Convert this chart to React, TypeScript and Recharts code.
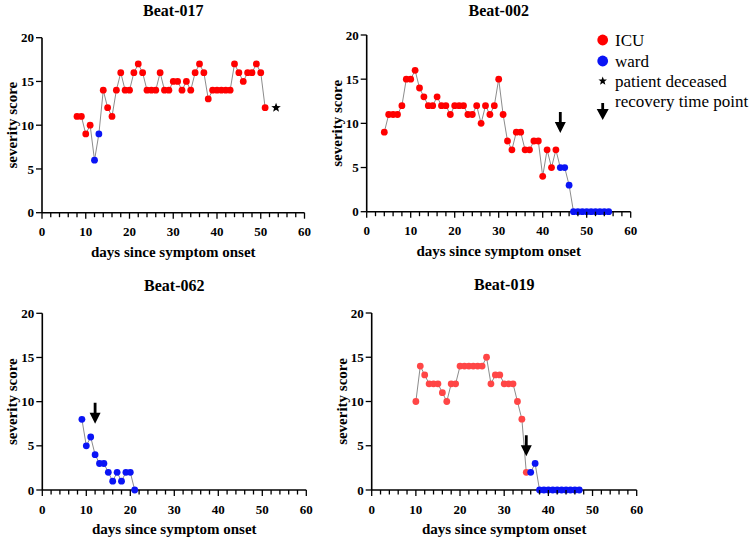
import React from 'react';
import { ComposedChart, Line, Scatter, XAxis, YAxis } from 'recharts';

const FONT = "'Liberation Serif', 'Times New Roman', serif";
const RED = '#ff0000';
const RED_LIGHT = '#ff4646';
const BLUE = '#0a14f5';

const xTicks = [0, 2, 4, 6, 8, 10, 12, 14, 16, 18, 20, 22, 24, 26, 28, 30, 32, 34, 36, 38, 40, 42, 44, 46, 48, 50, 52, 54, 56, 58, 60];
const yTicks = [0, 5, 10, 15, 20];

// Beat-017
const days017 = [8, 9, 10, 11, 12, 13, 14, 15, 16, 17, 18, 19, 20, 21, 22, 23, 24, 25, 26, 27, 28, 29, 30, 31, 32, 33, 34, 35, 36, 37, 38, 39, 40, 41, 42, 43, 44, 45, 46, 47, 48, 49, 50, 51];
const score017 = [11, 11, 9, 10, 6, 9, 14, 12, 11, 14, 16, 14, 14, 16, 17, 16, 14, 14, 14, 16, 14, 14, 15, 15, 14, 15, 14, 16, 17, 16, 13, 14, 14, 14, 14, 14, 17, 16, 15, 16, 16, 17, 16, 12];
const ward017 = [12, 13];
const deceased017 = [{ day: 53.5, score: 12 }];

// Beat-002
const days002 = [4, 5, 6, 7, 8, 9, 10, 11, 12, 13, 14, 15, 16, 17, 18, 19, 20, 21, 22, 23, 24, 25, 26, 27, 28, 29, 30, 31, 32, 33, 34, 35, 36, 37, 38, 39, 40, 41, 42, 43, 44, 45, 46, 47, 48, 49, 50, 51, 52, 53, 54, 55];
const score002 = [9, 11, 11, 11, 12, 15, 15, 16, 14, 13, 12, 12, 13, 12, 12, 11, 12, 12, 12, 11, 11, 12, 10, 12, 11, 12, 15, 11, 8, 7, 9, 9, 7, 7, 8, 8, 4, 7, 5, 7, 5, 5, 3, 0, 0, 0, 0, 0, 0, 0, 0, 0];
const ward002 = [44, 45, 46, 47, 48, 49, 50, 51, 52, 53, 54, 55];
const recovery002 = [{ day: 44, score: 8.9 }];

// Beat-062
const days062 = [9, 10, 11, 12, 13, 14, 15, 16, 17, 18, 19, 20, 21];
const score062 = [8, 5, 6, 4, 3, 3, 2, 1, 2, 1, 2, 2, 0];
const ward062 = [9, 10, 11, 12, 13, 14, 15, 16, 17, 18, 19, 20, 21];
const recovery062 = [{ day: 12, score: 7.5 }];

// Beat-019
const days019 = [10, 11, 12, 13, 14, 15, 16, 17, 18, 19, 20, 21, 22, 23, 24, 25, 26, 27, 28, 29, 30, 31, 32, 33, 34, 35, 36, 37, 38, 39, 40, 41, 42, 43, 44, 45, 46, 47];
const score019 = [10, 14, 13, 12, 12, 12, 11, 10, 12, 12, 14, 14, 14, 14, 14, 14, 15, 12, 13, 13, 12, 12, 12, 10, 8, 2, 2, 3, 0, 0, 0, 0, 0, 0, 0, 0, 0, 0];
const ward019 = [36, 37, 38, 39, 40, 41, 42, 43, 44, 45, 46, 47];
const recovery019 = [{ day: 35, score: 3.8 }];

const makeSeries = (days: number[], scores: number[], ward: number[]) =>
  days.map((d, i) => ({ day: d, score: scores[i], ward: ward.includes(d) }));

const XTick = ({ x, y, payload }: any) => {
  const major = payload.value % 10 === 0;
  return (
    <g>
      <line x1={x} x2={x} y1={y} y2={y + (major ? 6 : 4.5)} stroke="#000" strokeWidth={1.3} />
      {major && (
        <text x={x} y={y + 19} textAnchor="middle" dominantBaseline="central"
          fontFamily={FONT} fontSize={13} fontWeight="bold" fill="#000">
          {payload.value}
        </text>
      )}
    </g>
  );
};

const XTitle = ({ viewBox }: any) => (
  <text x={viewBox.x + viewBox.width / 2} y={viewBox.y + 39} textAnchor="middle" dominantBaseline="central"
    fontFamily={FONT} fontSize={15} fontWeight="bold" fill="#000">
    days since symptom onset
  </text>
);

const YTitle = ({ viewBox }: any) => {
  const cx = viewBox.x + viewBox.width - 30;
  const cy = viewBox.y + viewBox.height / 2;
  return (
    <text x={cx} y={cy} transform={`rotate(-90 ${cx} ${cy})`} textAnchor="middle" dominantBaseline="central"
      fontFamily={FONT} fontSize={15} fontWeight="bold" fill="#000">
      severity score
    </text>
  );
};

const starPoints = (cx: number, cy: number, R: number) => {
  const pts: string[] = [];
  for (let i = 0; i < 10; i++) {
    const r = i % 2 === 0 ? R : R * 0.42;
    const a = -Math.PI / 2 + (i * Math.PI) / 5;
    pts.push(`${cx + r * Math.cos(a)},${cy + r * Math.sin(a)}`);
  }
  return pts.join(' ');
};

const StarShape = ({ cx, cy }: any) => <polygon points={starPoints(cx, cy, 5)} fill="#000" />;

const arrowPath = (cx: number, tip: number, len: number, head: number, half: number) =>
  `M${cx - 1.4},${tip - len} L${cx + 1.4},${tip - len} L${cx + 1.4},${tip - head} L${cx + half},${tip - head} ` +
  `L${cx},${tip} L${cx - half},${tip - head} L${cx - 1.4},${tip - head} Z`;

const ArrowShape = ({ cx, cy }: any) => <path d={arrowPath(cx, cy, 21, 11, 5.5)} fill="#000" />;

const makeDot = (red: string) => (props: any) => {
  const { cx, cy, payload, index } = props;
  return <circle key={index} cx={cx} cy={cy} r={3.4} fill={payload.ward ? BLUE : red} />;
};

interface PanelProps {
  title: string;
  series: { day: number; score: number; ward: boolean }[];
  red: string;
  left: number;
  top: number;
  width: number;
  height: number;
  margin: { top: number; right: number; bottom: number; left: number };
  titleTop: number;
  star?: { day: number; score: number }[];
  arrow?: { day: number; score: number }[];
  legend?: boolean;
}

function Panel({ title, series, red, left, top, width, height, margin, titleTop, star, arrow }: PanelProps) {
  const plotLeft = margin.left + 30;
  const plotWidth = width - plotLeft - margin.right;
  return (
    <div style={{ position: 'absolute', left, top, width, height }}>
      <div style={{
        position: 'absolute', left: plotLeft, width: plotWidth, top: titleTop, textAlign: 'center',
        fontFamily: FONT, fontSize: 16, fontWeight: 'bold', lineHeight: '16px', color: '#000',
      }}>
        {title}
      </div>
      <ComposedChart width={width} height={height} margin={margin}>
        <XAxis type="number" dataKey="day" domain={[0, 60]} ticks={xTicks} interval={0}
          tickSize={0} tickMargin={0} tickLine={false} tick={<XTick />}
          axisLine={{ stroke: '#000', strokeWidth: 1.6 }} height={48} label={<XTitle />} />
        <YAxis type="number" dataKey="score" domain={[0, 20]} ticks={yTicks} interval={0} width={30}
          tick={{ fill: '#000', fontSize: 13, fontWeight: 'bold', fontFamily: FONT }}
          tickLine={{ stroke: '#000', strokeWidth: 1.3 }} axisLine={{ stroke: '#000', strokeWidth: 1.6 }}
          label={<YTitle />} />
        <Line data={series} dataKey="score" stroke="#8c8c8c" strokeWidth={1} dot={makeDot(red)}
          activeDot={false} isAnimationActive={false} />
        {star && <Scatter data={star} dataKey="score" shape={<StarShape />} isAnimationActive={false} />}
        {arrow && <Scatter data={arrow} dataKey="score" shape={<ArrowShape />} isAnimationActive={false} />}
      </ComposedChart>
    </div>
  );
}

function LegendBox() {
  const rows = [40, 61, 81, 101];
  const ix = 12.7;
  return (
    <div style={{ position: 'absolute', left: 590, top: 28 }}>
      <svg width={160} height={100}>
        <circle cx={ix} cy={rows[0] - 28} r={5.4} fill={RED} />
        <circle cx={ix} cy={rows[1] - 28} r={5.4} fill={BLUE} />
        <polygon points={starPoints(ix, rows[2] - 28, 4.5)} fill="#000" />
        <path d={arrowPath(ix, 120 - 28, 17, 11, 6)} fill="#000" />
        {['ICU', 'ward', 'patient deceased', 'recovery time point'].map((t, i) => (
          <text key={t} x={25} y={rows[i] - 28} dominantBaseline="central" fontFamily={FONT} fontSize={17} fill="#000">
            {t}
          </text>
        ))}
      </svg>
    </div>
  );
}

export default function App() {
  return (
    <div style={{ position: 'relative', width: 750, height: 538, background: '#fff', overflow: 'hidden' }}>
      <style>{'body{margin:0}'}</style>
      <Panel title="Beat-017" series={makeSeries(days017, score017, ward017)} red={RED}
        left={0} top={0} width={320} height={265} titleTop={3}
        margin={{ top: 37.7, right: 15.5, bottom: 4.3, left: 12 }} star={deceased017} />
      <Panel title="Beat-002" series={makeSeries(days002, score002, ward002)} red={RED}
        left={320} top={0} width={430} height={265} titleTop={3}
        margin={{ top: 35, right: 119.3, bottom: 5.3, left: 16.7 }} arrow={recovery002} />
      <Panel title="Beat-062" series={makeSeries(days062, score062, ward062)} red={RED}
        left={0} top={270} width={320} height={268} titleTop={8}
        margin={{ top: 43.3, right: 13.7, bottom: 0, left: 12.3 }} arrow={recovery062} />
      <Panel title="Beat-019" series={makeSeries(days019, score019, ward019)} red={RED_LIGHT}
        left={320} top={270} width={430} height={268} titleTop={7}
        margin={{ top: 43, right: 113.3, bottom: 0, left: 21.7 }} arrow={recovery019} />
      <LegendBox />
    </div>
  );
}
